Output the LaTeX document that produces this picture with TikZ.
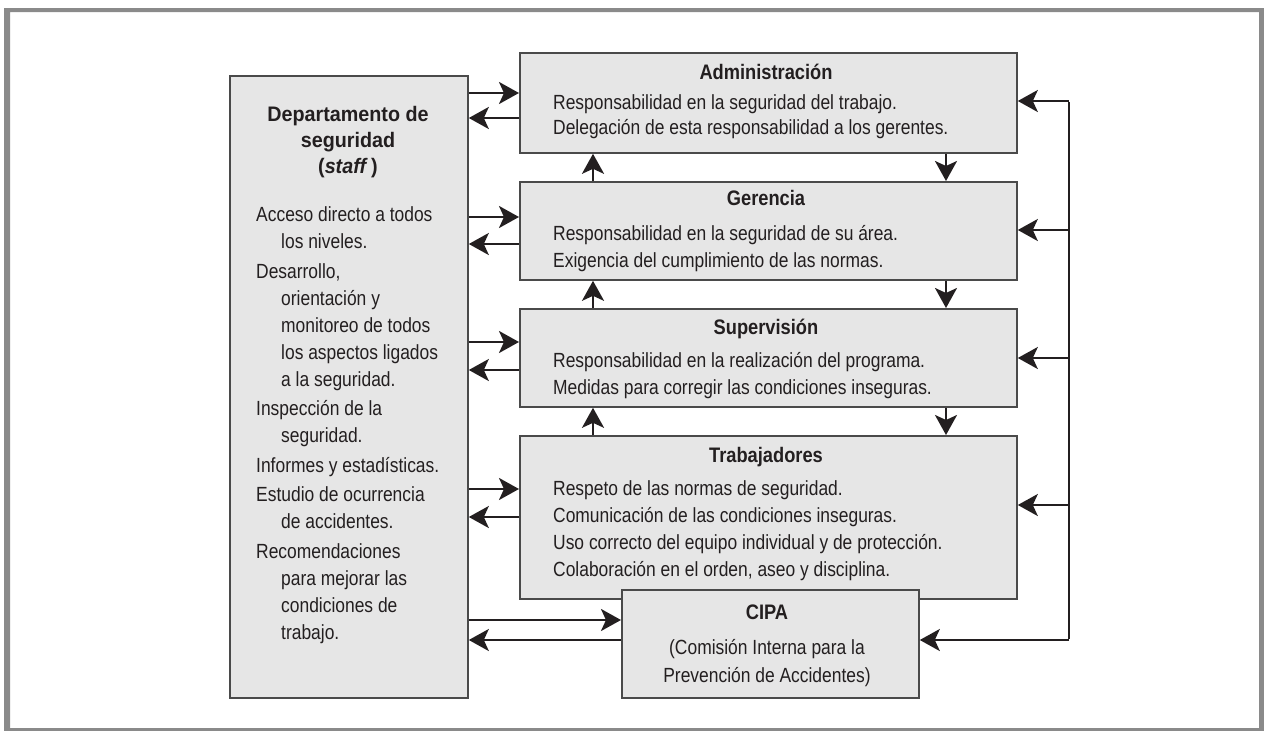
\documentclass[tikz,border=0pt]{standalone}
\usepackage{fontspec}
\setmainfont{Liberation Sans}[FakeStretch=0.85,BoldFeatures={FakeStretch=0.87},BoldItalicFeatures={FakeStretch=0.87}]
\newfontfamily\widetitle{Liberation Sans}[FakeStretch=0.94,BoldFeatures={FakeStretch=0.94},BoldItalicFeatures={FakeStretch=0.94}]
\usetikzlibrary{arrows.meta}
\definecolor{boxfill}{HTML}{E6E6E6}
\definecolor{boxborder}{HTML}{4A4A4A}
\definecolor{framegray}{HTML}{8A8A8A}
\definecolor{ink}{HTML}{231F20}
\begin{document}
\begin{tikzpicture}[x=1pt,y=-1pt,
  box/.style={draw=boxborder,fill=boxfill,line width=1.8pt,inner sep=0pt,anchor=north west},
  arr/.style={line width=2.5pt,draw=ink,-{Stealth[length=20pt,width=22pt,inset=5pt]}},
  plain/.style={line width=2.5pt,draw=ink},
  ttl/.style={font=\bfseries\fontsize{21}{26}\selectfont,text=ink,inner sep=0pt,anchor=base,align=center},
  body/.style={font=\fontsize{20.5}{#1}\selectfont,text=ink,inner sep=0pt,align=left,anchor=north west},
  body/.default=27]
\useasboundingbox (0,0) rectangle (1264,731);
% frame
\fill[framegray,even odd rule] (4,8) rectangle (1264,731) (10,12) rectangle (1259,728);
% boxes
\node[box,minimum width=238pt,minimum height=622pt] (dep) at (229,75) {};
\node[box,minimum width=497pt,minimum height=100pt] (adm) at (519,52) {};
\node[box,minimum width=497pt,minimum height=98pt] (ger) at (519,181) {};
\node[box,minimum width=497pt,minimum height=98pt] (sup) at (519,308) {};
\node[box,minimum width=497pt,minimum height=163pt] (tra) at (519,435) {};
\node[box,minimum width=297pt,minimum height=108pt] (cipa) at (621,589) {};
% texts
\node[ttl,font=\widetitle\bfseries\fontsize{21}{26}\selectfont,anchor=north] (depT) at (348,106.5) {Departamento de\\seguridad\\(\textit{staff}\,)};
\node[body] (depB) at (256,206.5) {Acceso directo a todos\\\hspace*{25pt}los niveles.\\[2.5pt]
Desarrollo,\\\hspace*{25pt}orientación y\\\hspace*{25pt}monitoreo de todos\\\hspace*{25pt}los aspectos ligados\\\hspace*{25pt}a la seguridad.\\[2.5pt]
Inspección de la\\\hspace*{25pt}seguridad.\\[2.5pt]
Informes y estadísticas.\\[2.5pt]
Estudio de ocurrencia\\\hspace*{25pt}de accidentes.\\[2.5pt]
Recomendaciones\\\hspace*{25pt}para mejorar las\\\hspace*{25pt}condiciones de\\\hspace*{25pt}trabajo.};
\node[ttl] (admT) at (766,79.5) {Administración};
\node[body=25] (admB) at (553,94.5) {Responsabilidad en la seguridad del trabajo.\\Delegación de esta responsabilidad a los gerentes.};
\node[ttl] (gerT) at (766,205.5) {Gerencia};
\node[body] (gerB) at (553,225.5) {Responsabilidad en la seguridad de su área.\\Exigencia del cumplimiento de las normas.};
\node[ttl] (supT) at (766,334.5) {Supervisión};
\node[body] (supB) at (553,352.5) {Responsabilidad en la realización del programa.\\Medidas para corregir las condiciones inseguras.};
\node[ttl] (traT) at (766,462.5) {Trabajadores};
\node[body] (traB) at (553,480.5) {Respeto de las normas de seguridad.\\Comunicación de las condiciones inseguras.\\Uso correcto del equipo individual y de protección.\\Colaboración en el orden, aseo y disciplina.};
\node[ttl] (cipaT) at (767,619.5) {CIPA};
\node[body=28,align=center,anchor=north] (cipaB) at (767,639.5) {(Comisión Interna para la\\Prevención de Accidentes)};
% left connectors
\draw[arr] (dep.east |- 0,93) -- (adm.west |- 0,93);
\draw[arr] (adm.west |- 0,118) -- (dep.east |- 0,118);
\draw[arr] (dep.east |- 0,217) -- (ger.west |- 0,217);
\draw[arr] (ger.west |- 0,244) -- (dep.east |- 0,244);
\draw[arr] (dep.east |- 0,342) -- (sup.west |- 0,342);
\draw[arr] (sup.west |- 0,370) -- (dep.east |- 0,370);
\draw[arr] (dep.east |- 0,489) -- (tra.west |- 0,489);
\draw[arr] (tra.west |- 0,517) -- (dep.east |- 0,517);
\draw[arr] (dep.east |- 0,620) -- (cipa.west |- 0,620);
\draw[arr] (cipa.west |- 0,640) -- (dep.east |- 0,640);
% vertical connectors
\draw[arr] (ger.north -| 593,0) -- (adm.south -| 593,0);
\draw[arr] (adm.south -| 946,0) -- (ger.north -| 946,0);
\draw[arr] (sup.north -| 593,0) -- (ger.south -| 593,0);
\draw[arr] (ger.south -| 946,0) -- (sup.north -| 946,0);
\draw[arr] (tra.north -| 593,0) -- (sup.south -| 593,0);
\draw[arr] (sup.south -| 946,0) -- (tra.north -| 946,0);
% right connectors
\coordinate (r1) at (1069,101);
\coordinate (r2) at (1069,230);
\coordinate (r3) at (1069,358);
\coordinate (r4) at (1069,505);
\coordinate (r5) at (1069,640);
\draw[plain] ([yshift=-1.25pt]r1) -- ([yshift=1.25pt]r5);
\draw[arr] (r1) -- (adm.east |- r1);
\draw[arr] (r2) -- (ger.east |- r2);
\draw[arr] (r3) -- (sup.east |- r3);
\draw[arr] (r4) -- (tra.east |- r4);
\draw[arr] (r5) -- (cipa.east |- r5);
\end{tikzpicture}
\end{document}
